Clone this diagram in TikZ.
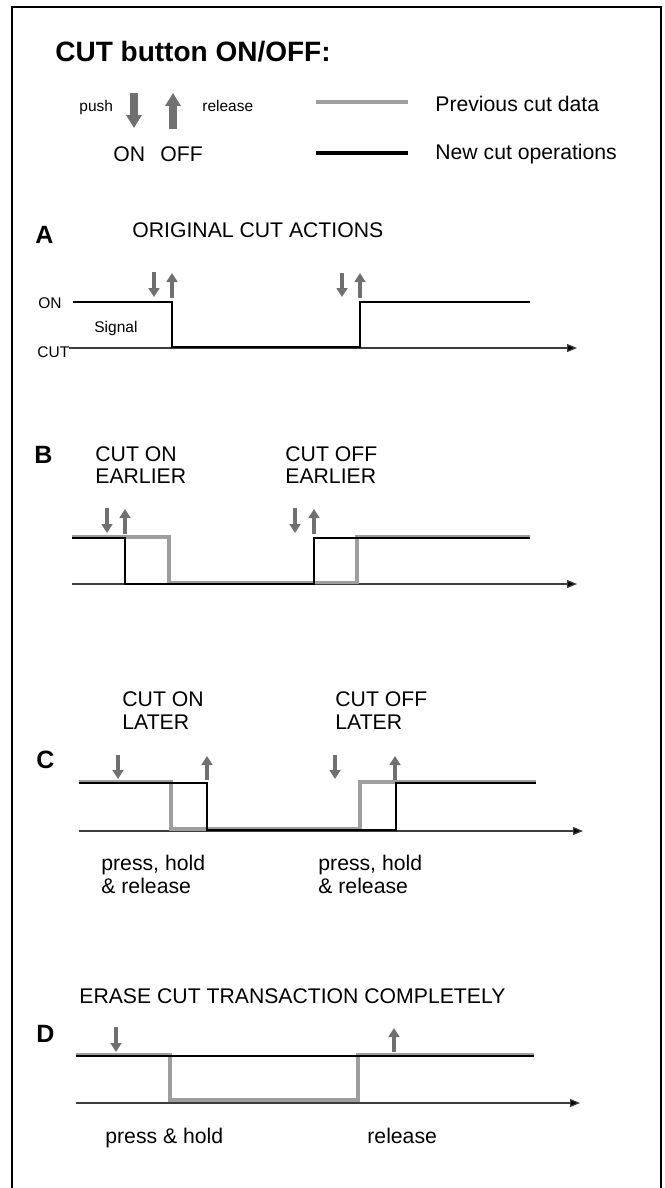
\documentclass[tikz,border=0pt]{standalone}
\usepackage{fontspec}
\setmainfont{Liberation Sans}
\usetikzlibrary{arrows.meta}

\definecolor{btngray}{RGB}{112,112,112}
\definecolor{oldgray}{RGB}{158,158,158}
\definecolor{axisgray}{RGB}{60,60,60}

\begin{document}
\begin{tikzpicture}[
  x=0.5pt, y=-0.5pt,
  lbl/.style={inner sep=0pt, anchor=base west, font=\fontsize{10.6}{12}\selectfont},
  small/.style={lbl, font=\fontsize{7.75}{9}\selectfont},
  sec/.style={lbl, font=\fontsize{12.5}{14}\selectfont\bfseries},
  ttl/.style={lbl, font=\fontsize{14}{16}\selectfont\bfseries},
  btn/.style={draw=btngray, line width=2.15pt, -{Triangle[length=4.5pt,width=5.4pt,fill=btngray]}},
  bigbtn/.style={draw=btngray, line width=3.85pt, -{Triangle[length=6.5pt,width=7.5pt,fill=btngray]}},
  oldsig/.style={draw=oldgray, line width=1.75pt},
  newsig/.style={draw=black, line width=1pt},
  axisline/.style={draw=axisgray, line width=0.6pt, -{Triangle[length=5pt,width=4pt,fill=black]}},
  frame/.style={draw=black, line width=0.65pt},
]
\useasboundingbox (0,0) rectangle (664,1188);
\fill[white] (0,0) rectangle (664,1188);

% outer frame (open at the bottom edge of the page)
\draw[frame] (12,1200) -- (12,7) -- (661,7) -- (661,1200);

% ---------- heading and legend ----------
\node[ttl] (title) at (55,62) {CUT button ON/OFF:};
\node[small] (push) at (79,112) {push};
\node[small] (rel) at (202,112) {release};
\draw[bigbtn] (134,93) -- (134,128);
\draw[bigbtn] (173,129) -- (173,93);
\node[lbl] (on) at (113,162) {ON};
\node[lbl] (off) at (160,162) {OFF};

\draw[draw=oldgray, line width=2.3pt] (316,102) -- (408,102);
\draw[draw=black, line width=2pt] (316,153) -- (408,153);
\node[lbl] (prev) at (435,112) {Previous cut data};
\node[lbl] (new) at (435,160) {New cut operations};

% ---------- A ----------
\node[sec] (secA) at (35,243) {A};
\node[lbl] (ttlA) at (132,237) {ORIGINAL CUT ACTIONS};
\node[small] (onA) at (38,308) {ON};
\node[small] (cutA) at (37,357) {CUT};
\node[small] (sigA) at (94,332) {Signal};
\draw[btn] (154,272) -- (154,297);
\draw[btn] (172,298) -- (172,273);
\draw[btn] (342,273) -- (342,297);
\draw[btn] (360,298) -- (360,273);
\draw[axisline] (69,348) -- (577,348);
\draw[newsig] (73,302) -- (172,302) -- (172,347) -- (360,347) -- (360,302) -- (530,302);

% ---------- B ----------
\node[sec] (secB) at (34,463) {B};
\node[lbl] (onB1) at (95,461) {CUT ON};
\node[lbl] (onB2) at (95,483) {EARLIER};
\node[lbl] (offB1) at (285,461) {CUT OFF};
\node[lbl] (offB2) at (285,483) {EARLIER};
\draw[btn] (107,508) -- (107,533);
\draw[btn] (125,534) -- (125,509);
\draw[btn] (295,508) -- (295,533);
\draw[btn] (314,534) -- (314,509);
\draw[axisline] (72,584) -- (577,584);
\draw[oldsig] (72,537) -- (169,537) -- (169,582.5) -- (357,582.5) -- (357,537) -- (530,537);
\draw[newsig] (72,538) -- (125,538) -- (125,584) -- (314,584) -- (314,538) -- (530,538);

% ---------- C ----------
\node[lbl] (onC1) at (122,706) {CUT ON};
\node[lbl] (onC2) at (122,729) {LATER};
\node[lbl] (offC1) at (335,706) {CUT OFF};
\node[lbl] (offC2) at (335,729) {LATER};
\node[sec] (secC) at (36,768) {C};
\draw[btn] (118,755) -- (118,779);
\draw[btn] (207,780) -- (207,756);
\draw[btn] (335,755) -- (335,779);
\draw[btn] (395,780) -- (395,756);
\draw[axisline] (79,831) -- (583,831);
\draw[oldsig] (79,782) -- (171,782) -- (171,829) -- (360,829) -- (360,782) -- (536,782);
\draw[newsig] (79,783) -- (207,783) -- (207,830) -- (396,830) -- (396,783) -- (536,783);
\node[lbl] (phC1) at (101,870) {press, hold};
\node[lbl] (prC1) at (101,893) {\& release};
\node[lbl] (phC2) at (318,870) {press, hold};
\node[lbl] (prC2) at (318,893) {\& release};

% ---------- D ----------
\node[lbl] (ttlD) at (79,1003) {ERASE CUT TRANSACTION COMPLETELY};
\node[sec] (secD) at (36,1042) {D};
\draw[btn] (116,1027) -- (116,1052);
\draw[btn] (394,1052) -- (394,1028);
\draw[axisline] (76,1103) -- (580,1103);
\draw[oldsig] (76,1055) -- (170,1055) -- (170,1100) -- (358,1100) -- (358,1055) -- (534,1055);
\draw[newsig] (76,1056) -- (534,1056);
\node[lbl] (phD) at (105,1143) {press \& hold};
\node[lbl] (rlD) at (367,1143) {release};
\end{tikzpicture}
\end{document}
